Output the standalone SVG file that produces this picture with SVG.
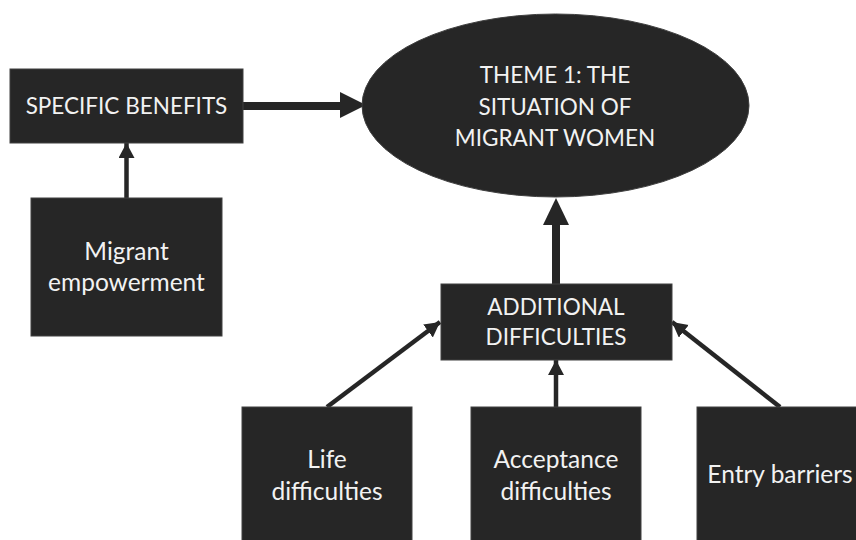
<svg xmlns="http://www.w3.org/2000/svg" width="856" height="540" viewBox="0 0 856 540">
<style>
.n{fill:#262626;stroke:#404040;stroke-width:1}
.t{fill:#f2f2f2;font-family:Lato,"Open Sans","Liberation Sans",sans-serif;font-size:22.5px;text-anchor:middle}
.l{font-size:24.5px}
.thin{stroke:#262626;stroke-width:4.5;fill:none}
.thick{stroke:#262626;stroke-width:8;fill:none}
</style>
<defs>
<marker id="ah" markerUnits="userSpaceOnUse" markerWidth="18" markerHeight="18" refX="15" refY="8" orient="auto">
<path d="M0,0 L15,8 L0,16 Z" fill="#262626"/>
</marker>
</defs>
<rect width="856" height="540" fill="#ffffff"/>
<g id="connectors">
<line class="thick" x1="243" y1="106" x2="342" y2="106"/>
<path d="M340,92 L366,105 L340,118 Z" fill="#262626"/>
<line class="thick" x1="556" y1="285" x2="556" y2="222"/>
<path d="M543,225 L556,198 L569,225 Z" fill="#262626"/>
<line class="thin" x1="126.5" y1="198" x2="126.5" y2="143" marker-end="url(#ah)"/>
<line class="thin" x1="556" y1="407" x2="556" y2="360" marker-end="url(#ah)"/>
<line class="thin" x1="327" y1="407" x2="440" y2="322" marker-end="url(#ah)"/>
<line class="thin" x1="780" y1="407" x2="672" y2="322" marker-end="url(#ah)"/>
</g>
<g id="theme">
<ellipse class="n" cx="555.5" cy="105.5" rx="193.5" ry="91.5"/>
<text class="t" x="555" y="83">THEME 1: THE</text>
<text class="t" x="555" y="115">SITUATION OF</text>
<text class="t" x="555" y="146">MIGRANT WOMEN</text>
</g>
<g id="specific-benefits">
<rect class="n" x="10" y="69" width="233" height="74"/>
<text class="t" x="126.5" y="114">SPECIFIC BENEFITS</text>
</g>
<g id="migrant-empowerment">
<rect class="n" x="31" y="198" width="191" height="138"/>
<text class="t l" x="126.5" y="260">Migrant</text>
<text class="t l" x="126.5" y="291">empowerment</text>
</g>
<g id="additional-difficulties">
<rect class="n" x="441" y="284" width="231" height="76"/>
<text class="t" x="556" y="315">ADDITIONAL</text>
<text class="t" x="556" y="345">DIFFICULTIES</text>
</g>
<g id="life-difficulties">
<rect class="n" x="242" y="407" width="170" height="140"/>
<text class="t l" x="327" y="468">Life</text>
<text class="t l" x="327" y="500">difficulties</text>
</g>
<g id="acceptance-difficulties">
<rect class="n" x="471" y="407" width="170" height="140"/>
<text class="t l" x="556" y="468">Acceptance</text>
<text class="t l" x="556" y="500">difficulties</text>
</g>
<g id="entry-barriers">
<rect class="n" x="697" y="407" width="170" height="140"/>
<text class="t l" x="780" y="483">Entry barriers</text>
</g>
</svg>
